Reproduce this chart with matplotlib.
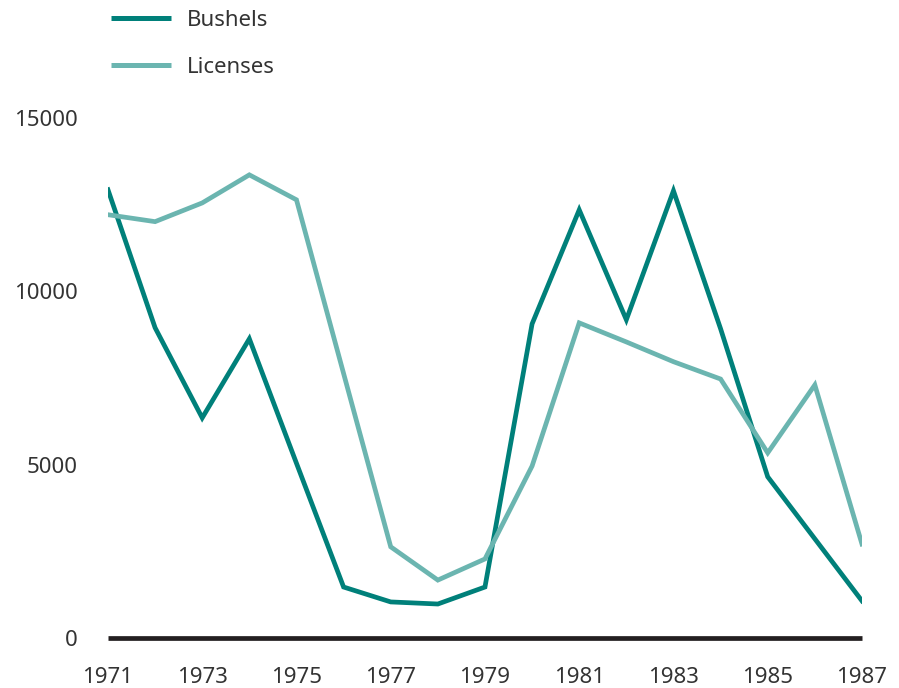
import matplotlib.pyplot as plt

years = list(range(1971, 1988))
bushels = [12930, 8950, 6350, 8630, 5040, 1470, 1040, 980, 1470,
           9060, 12350, 9180, 12900, 8920, 4650, 2860, 1070]
licenses = [12210, 12010, 12550, 13360, 12640, 7630, 2630, 1670, 2280,
            4960, 9090, 8540, 7970, 7470, 5340, 7300, 2710]
yticks = [0, 5000, 10000, 15000]
xticks = list(range(1971, 1988, 2))

plt.rcParams['font.family'] = ['Noto Sans', 'DejaVu Sans']
text_color = '#333333'

fig = plt.figure(figsize=(8.99, 6.88), dpi=100)
ax = fig.add_axes([0.1201, 0.0727, 0.8387, 0.7558])

ax.plot(years, bushels, color='#00807a', lw=3.4, label='Bushels',
        solid_joinstyle='miter')
ax.plot(years, licenses, color='#6bb5b0', lw=3.4, label='Licenses',
        solid_joinstyle='miter')
# zero baseline sits on the lower edge, so keep it unclipped
ax.axhline(0, color='#231f20', lw=3.4, zorder=1, clip_on=False,
           solid_capstyle='butt')

ax.set_xlim(1971, 1987)
ax.set_ylim(0, 15000)
ax.set_xticks(xticks)
ax.set_yticks(yticks)
ax.set_xticklabels([str(x) for x in xticks])
ax.set_yticklabels([str(y) for y in yticks])
ax.tick_params(length=0, labelsize=16, colors=text_color)
ax.tick_params(axis='y', pad=22)
ax.tick_params(axis='x', pad=21)
for s in ax.spines.values():
    s.set_visible(False)

leg = fig.legend(loc='upper left', bbox_to_anchor=(0.1190, 0.992),
                 frameon=False, fontsize=16, handlelength=2.7,
                 handletextpad=0.7, labelspacing=1.15, borderpad=0.2,
                 borderaxespad=0)
for t in leg.get_texts():
    t.set_color(text_color)
for h in leg.get_lines():
    h.set_linewidth(3.6)
    h.set_solid_capstyle('butt')

fig.savefig('out.png', dpi=100)
